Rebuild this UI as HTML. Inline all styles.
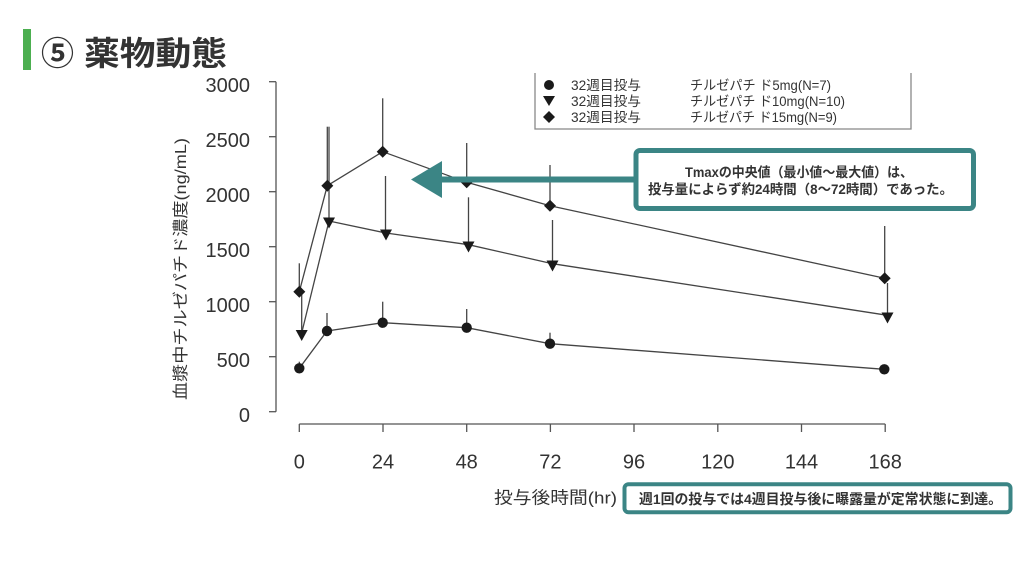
<!DOCTYPE html>
<html><head><meta charset="utf-8"><style>
html,body{margin:0;padding:0;background:#fff;}
svg{display:block;}
text{font-family:"Liberation Sans","Noto Sans CJK JP",sans-serif;}
.jp{font-family:"Liberation Sans","Noto Sans CJK JP",sans-serif;}
</style></head><body>
<svg width="1024" height="576" viewBox="0 0 1024 576" xmlns="http://www.w3.org/2000/svg">
<rect width="1024" height="576" fill="#fff"/>
<!-- title -->
<rect x="23" y="29" width="8" height="41" fill="#4caf50"/>
<text x="41" y="65" font-size="33" font-weight="bold" fill="#333" class="jp">⑤</text>
<text x="84" y="65" font-size="33" font-weight="bold" fill="#333" class="jp" textLength="143" lengthAdjust="spacingAndGlyphs">薬物動態</text>

<!-- y axis -->
<g stroke="#555" stroke-width="1.3" fill="none">
<line x1="276" y1="81.7" x2="276" y2="411.7"/>
<line x1="269" y1="81.7" x2="276" y2="81.7"/>
<line x1="269" y1="136.7" x2="276" y2="136.7"/>
<line x1="269" y1="191.7" x2="276" y2="191.7"/>
<line x1="269" y1="246.7" x2="276" y2="246.7"/>
<line x1="269" y1="301.7" x2="276" y2="301.7"/>
<line x1="269" y1="356.7" x2="276" y2="356.7"/>
<line x1="269" y1="411.7" x2="276" y2="411.7"/>
<!-- x axis -->
<line x1="299.3" y1="424" x2="885.2" y2="424"/>
<line x1="299.3" y1="424" x2="299.3" y2="432"/>
<line x1="383" y1="424" x2="383" y2="432"/>
<line x1="466.7" y1="424" x2="466.7" y2="432"/>
<line x1="550.4" y1="424" x2="550.4" y2="432"/>
<line x1="634" y1="424" x2="634" y2="432"/>
<line x1="717.8" y1="424" x2="717.8" y2="432"/>
<line x1="801.5" y1="424" x2="801.5" y2="432"/>
<line x1="885.2" y1="424" x2="885.2" y2="432"/>
</g>
<g font-size="20" fill="#333" text-anchor="end">
<text x="250" y="92.2">3000</text>
<text x="250" y="147.2">2500</text>
<text x="250" y="202.2">2000</text>
<text x="250" y="257.2">1500</text>
<text x="250" y="312.2">1000</text>
<text x="250" y="367.2">500</text>
<text x="250" y="422.2">0</text>
</g>
<g font-size="20" fill="#333" text-anchor="middle">
<text x="299.3" y="468.5">0</text>
<text x="383" y="468.5">24</text>
<text x="466.7" y="468.5">48</text>
<text x="550.4" y="468.5">72</text>
<text x="634" y="468.5">96</text>
<text x="717.8" y="468.5">120</text>
<text x="801.5" y="468.5">144</text>
<text x="885.2" y="468.5">168</text>
</g>
<!-- y label -->
<text transform="translate(186,269) rotate(-90)" font-size="16" fill="#333" text-anchor="middle" textLength="262" lengthAdjust="spacingAndGlyphs">血漿中チルゼパチド濃度(ng/mL)</text>
<!-- x label -->
<text x="494" y="503.5" font-size="17" fill="#333" textLength="123" lengthAdjust="spacingAndGlyphs">投与後時間(hr)</text>

<!-- error bars -->
<g stroke="#444" stroke-width="1.3">
<!-- 5mg -->
<line x1="299.3" y1="361.7" x2="299.3" y2="368"/>
<line x1="327" y1="313" x2="327" y2="331"/>
<line x1="382.7" y1="301.7" x2="382.7" y2="323"/>
<line x1="466.7" y1="309" x2="466.7" y2="328"/>
<line x1="550" y1="332.7" x2="550" y2="344"/>
<!-- 10mg -->
<line x1="301.7" y1="292" x2="301.7" y2="332"/>
<line x1="329" y1="126.7" x2="329" y2="220"/>
<line x1="385.5" y1="176" x2="385.5" y2="232"/>
<line x1="468.5" y1="197.3" x2="468.5" y2="244"/>
<line x1="552.5" y1="220" x2="552.5" y2="262"/>
<line x1="887.5" y1="283" x2="887.5" y2="314"/>
<!-- 15mg -->
<line x1="299.3" y1="263.3" x2="299.3" y2="292"/>
<line x1="327.3" y1="126.7" x2="327.3" y2="186"/>
<line x1="382.7" y1="98.3" x2="382.7" y2="152"/>
<line x1="466.7" y1="143" x2="466.7" y2="182"/>
<line x1="550" y1="165" x2="550" y2="206"/>
<line x1="884.7" y1="226" x2="884.7" y2="278"/>
</g>
<!-- series lines -->
<g stroke="#444" stroke-width="1.3" fill="none">
<polyline points="299.3,368.3 327,331 382.7,322.7 466.7,327.7 550,343.7 884.3,369.3"/>
<polyline points="301.7,333 329,221 386,233 468.5,244.7 552.5,263.7 887.5,315.3"/>
<polyline points="299.3,291.7 327.3,185.7 382.7,151.7 466.7,182.3 550,205.7 884.7,278.3"/>
</g>
<!-- markers -->
<g fill="#1a1a1a">
<circle cx="299.3" cy="368.3" r="5.2"/>
<circle cx="327" cy="331" r="5.2"/>
<circle cx="382.7" cy="322.7" r="5.2"/>
<circle cx="466.7" cy="327.7" r="5.2"/>
<circle cx="550" cy="343.7" r="5.2"/>
<circle cx="884.3" cy="369.3" r="5.2"/>
<polygon points="295.7,330 307.7,330 301.7,341"/>
<polygon points="323,217.5 335,217.5 329,228.5"/>
<polygon points="380,229.5 392,229.5 386,240.5"/>
<polygon points="462.5,241.5 474.5,241.5 468.5,252.5"/>
<polygon points="546.5,260.5 558.5,260.5 552.5,271.5"/>
<polygon points="881.5,312.5 893.5,312.5 887.5,323.5"/>
<polygon points="299.3,285.7 305.3,291.7 299.3,297.7 293.3,291.7"/>
<polygon points="327.3,179.7 333.3,185.7 327.3,191.7 321.3,185.7"/>
<polygon points="382.7,145.7 388.7,151.7 382.7,157.7 376.7,151.7"/>
<polygon points="466.7,176.3 472.7,182.3 466.7,188.3 460.7,182.3"/>
<polygon points="550,199.7 556,205.7 550,211.7 544,205.7"/>
<polygon points="884.7,272.3 890.7,278.3 884.7,284.3 878.7,278.3"/>
</g>

<!-- legend -->
<polyline points="535,73 535,129 911,129 911,73" fill="none" stroke="#888" stroke-width="1.3"/>
<g fill="#1a1a1a">
<circle cx="549" cy="85" r="5"/>
<polygon points="543,96 555,96 549,106"/>
<polygon points="549,111 555,117 549,123 543,117"/>
</g>
<g font-size="13.5" fill="#333">
<text x="571" y="90" textLength="70" lengthAdjust="spacingAndGlyphs">32週目投与</text>
<text x="571" y="106" textLength="70" lengthAdjust="spacingAndGlyphs">32週目投与</text>
<text x="571" y="122" textLength="70" lengthAdjust="spacingAndGlyphs">32週目投与</text>
<text x="690" y="90" textLength="141" lengthAdjust="spacingAndGlyphs">チルゼパチ ド5mg(N=7)</text>
<text x="690" y="106" textLength="155" lengthAdjust="spacingAndGlyphs">チルゼパチ ド10mg(N=10)</text>
<text x="690" y="122" textLength="147" lengthAdjust="spacingAndGlyphs">チルゼパチ ド15mg(N=9)</text>
</g>

<!-- callout arrow -->
<rect x="440" y="176.5" width="196" height="6" fill="#3b8585"/>
<polygon points="411,179.5 442,161 442,198" fill="#3b8585"/>
<rect x="636" y="150.5" width="337.5" height="58" rx="4" fill="#fff" stroke="#3b8585" stroke-width="5"/>
<text x="799" y="177" font-size="13.5" font-weight="bold" fill="#333" text-anchor="middle" textLength="228" lengthAdjust="spacingAndGlyphs">Tmaxの中央値（最小値～最大値）は、</text>
<text x="800.5" y="194" font-size="13.5" font-weight="bold" fill="#333" text-anchor="middle" textLength="305" lengthAdjust="spacingAndGlyphs">投与量によらず約24時間（8～72時間）であった。</text>

<!-- bottom callout -->
<rect x="624.5" y="484.3" width="386" height="28" rx="4" fill="#fff" stroke="#3b8585" stroke-width="4"/>
<text x="639" y="504" font-size="14" font-weight="bold" fill="#333" textLength="363" lengthAdjust="spacingAndGlyphs">週1回の投与では4週目投与後に曝露量が定常状態に到達。</text>
</svg>
</body></html>
